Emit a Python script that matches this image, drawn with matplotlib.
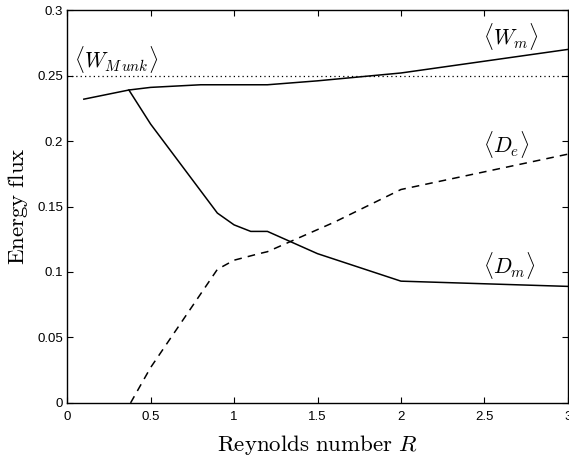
import matplotlib
matplotlib.use('Agg')
import matplotlib.pyplot as plt

plt.rcParams['mathtext.fontset'] = 'cm'

# <W_m> : wind work (solid, upper)
r_wm = [0.1, 0.37, 0.5, 0.8, 1.0, 1.2, 1.5, 2.0, 3.0]
wm = [0.232, 0.239, 0.241, 0.243, 0.243, 0.243, 0.246, 0.252, 0.270]

# <D_m> : mean dissipation (solid, lower)
r_dm = [0.37, 0.5, 0.9, 1.0, 1.1, 1.2, 1.5, 2.0, 3.0]
dm = [0.239, 0.213, 0.145, 0.136, 0.131, 0.131, 0.114, 0.093, 0.089]

# <D_e> : eddy dissipation (dashed)
r_de = [0.38, 0.5, 0.9, 1.0, 1.15, 1.2, 1.6, 2.0, 3.0]
de = [0.0, 0.027, 0.102, 0.109, 0.114, 0.1155, 0.138, 0.163, 0.190]

w_munk = 0.25

fig = plt.figure(figsize=(5.69, 4.61), dpi=100)
ax = fig.add_axes([0.118, 0.126, 0.880, 0.852])

ax.axhline(w_munk, color='black', linestyle=(0, (1, 2.5)), linewidth=0.9)
ax.plot(r_wm, wm, color='black', linewidth=1.1)
ax.plot(r_dm, dm, color='black', linewidth=1.1)
ax.plot(r_de, de, color='black', linewidth=1.1, linestyle=(0, (5, 4)))

ax.set_xlim(0, 3)
ax.set_ylim(0, 0.3)
ax.set_xticks([0, 0.5, 1, 1.5, 2, 2.5, 3])
ax.set_xticklabels(['0', '0.5', '1', '1.5', '2', '2.5', '3'])
ax.set_yticks([0, 0.05, 0.1, 0.15, 0.2, 0.25, 0.3])
ax.set_yticklabels(['0', '0.05', '0.1', '0.15', '0.2', '0.25', '0.3'])
ax.tick_params(direction='in', top=True, right=True, length=4, width=0.8,
               labelsize=9.5)
ax.tick_params(axis='x', pad=6)
ax.tick_params(axis='y', pad=3)
for lab in ax.get_xticklabels() + ax.get_yticklabels():
    lab.set_family('Liberation Sans')
for s in ax.spines.values():
    s.set_linewidth(1.0)

ax.set_xlabel(r'$\mathrm{Reynolds\ number}\ R$', fontsize=16.5, labelpad=7)
ax.set_ylabel(r'$\mathrm{Energy\ flux}$', fontsize=16.5, labelpad=5)

ax.text(0.04, 0.2626, r'$\langle W_{M\,unk}\rangle$', fontsize=15.5, va='center')
ax.text(2.49, 0.280, r'$\langle W_m\rangle$', fontsize=15.5, va='center')
ax.text(2.49, 0.197, r'$\langle D_e\rangle$', fontsize=15.5, va='center')
ax.text(2.49, 0.105, r'$\langle D_m\rangle$', fontsize=15.5, va='center')

fig.savefig('out.png', dpi=100)
